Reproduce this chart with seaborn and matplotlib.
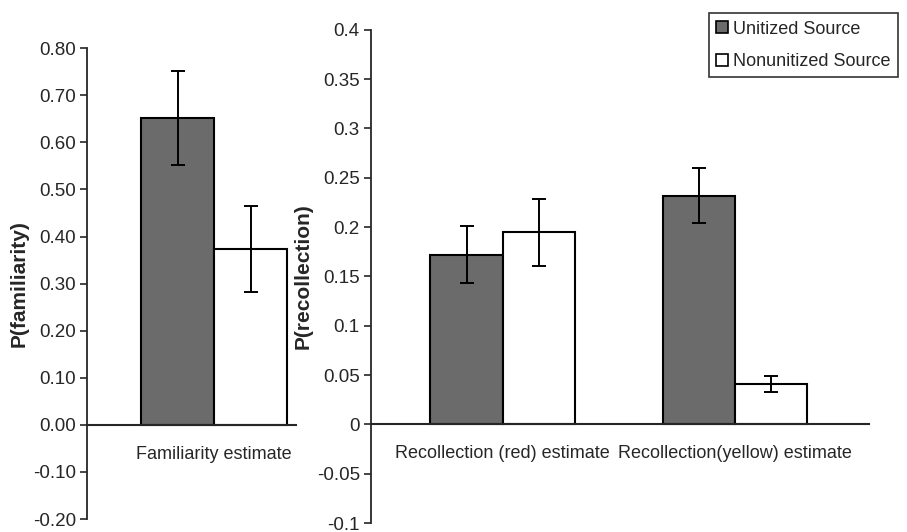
import seaborn as sns
import matplotlib.pyplot as plt
import pandas as pd

sns.set_style("ticks")
plt.rcParams['font.family'] = ['Liberation Sans', 'DejaVu Sans']

sources = ['Unitized Source', 'Nonunitized Source']
source_colors = ['#6b6b6b', '#ffffff']

fam_labels = ['Familiarity estimate']
fam_means = {'Unitized Source': [0.652], 'Nonunitized Source': [0.373]}
fam_errs = {'Unitized Source': [0.100], 'Nonunitized Source': [0.091]}
fam_ticks = [-0.2, -0.1, 0.0, 0.1, 0.2, 0.3, 0.4, 0.5, 0.6, 0.7, 0.8]
fam_ticklabels = ['-0.20', '-0.10', '0.00', '0.10', '0.20', '0.30', '0.40',
                  '0.50', '0.60', '0.70', '0.80']

rec_labels = ['Recollection (red) estimate', 'Recollection(yellow) estimate']
rec_means = {'Unitized Source': [0.172, 0.232], 'Nonunitized Source': [0.195, 0.041]}
rec_errs = {'Unitized Source': [0.029, 0.028], 'Nonunitized Source': [0.034, 0.008]}
rec_ticks = [-0.1, -0.05, 0, 0.05, 0.1, 0.15, 0.2, 0.25, 0.3, 0.35, 0.4]
rec_ticklabels = ['-0.1', '-0.05', '0', '0.05', '0.1', '0.15', '0.2', '0.25',
                  '0.3', '0.35', '0.4']


def long_df(labels, means):
    rows = []
    for s in sources:
        for lab, v in zip(labels, means[s]):
            rows.append({'cond': lab, 'source': s, 'value': v})
    return pd.DataFrame(rows)


def panel(ax, labels, means, errs, width, ticks, ticklabels, ylabel, xlim):
    df = long_df(labels, means)
    sns.barplot(data=df, x='cond', y='value', hue='source', hue_order=sources,
                order=labels, palette=source_colors, saturation=1, width=width,
                edgecolor='black', linewidth=1.5, errorbar=None, legend=False, ax=ax)
    for cont, s in zip(ax.containers, sources):
        for bar, e in zip(cont, errs[s]):
            cx = bar.get_x() + bar.get_width() / 2
            ax.errorbar(cx, bar.get_height(), yerr=e, fmt='none', ecolor='black',
                        elinewidth=1.4, capsize=5, capthick=1.4)
    ax.set_ylim(ticks[0], ticks[-1])
    ax.set_yticks(ticks)
    ax.set_yticklabels(ticklabels, fontsize=13.5)
    ax.set_xlim(*xlim)
    ax.set_ylabel(ylabel, fontsize=15, fontweight='bold', labelpad=3)
    ax.set_xlabel('')
    sns.despine(ax=ax)
    ax.spines['bottom'].set_position(('data', 0))
    ax.spines['bottom'].set_linewidth(1.5)
    ax.spines['left'].set_linewidth(1.3)
    ax.tick_params(axis='x', length=0, pad=15, labelsize=13)
    ax.tick_params(axis='y', length=5, width=1.2, direction='out', pad=3)


fig = plt.figure(figsize=(9.07, 5.32), dpi=100)
ax1 = fig.add_axes([0.0959, 0.0244, 0.2304, 0.885])
ax2 = fig.add_axes([0.409, 0.0169, 0.549, 0.927])

panel(ax1, fam_labels, fam_means, fam_errs, 0.8, fam_ticks, fam_ticklabels,
      'P(familiarity)', (-0.70, 0.45))
panel(ax2, rec_labels, rec_means, rec_errs, 0.62, rec_ticks, rec_ticklabels,
      'P(recollection)', (-0.566, 1.576))

handles = [plt.Rectangle((0, 0), 1, 1, facecolor=c, edgecolor='black', linewidth=1.2)
           for c in source_colors]
leg = fig.legend(handles, sources, loc='upper right', bbox_to_anchor=(0.99, 0.975),
                 fontsize=13, frameon=True, fancybox=False, handlelength=0.65,
                 handleheight=0.65, handletextpad=0.3, borderpad=0.4,
                 labelspacing=0.85, borderaxespad=0)
leg.get_frame().set_edgecolor('black')
leg.get_frame().set_linewidth(1.2)

fig.savefig('out.png', dpi=100)
